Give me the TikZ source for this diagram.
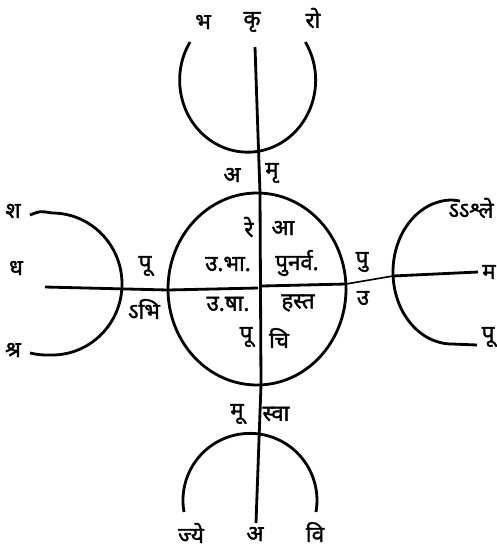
\documentclass[tikz,border=0pt]{standalone}
\usepackage{fontspec}
\usepackage{tikz}
\usetikzlibrary{calc}
\newfontfamily\devfont[Script=Devanagari, FakeBold=1.6]{Noto Sans}

\begin{document}
\begin{tikzpicture}[x=0.03cm, y=-0.03cm, line width=2.4pt,
  lbl/.style={font=\devfont\fontsize{19}{21}\selectfont, inner sep=0pt}]
  \useasboundingbox (0,0) rectangle (497,551);
  % --- centre circle and its cross ---
  \coordinate (mid) at (257,289);
  \draw (mid) ellipse [x radius=89, y radius=96];
  \draw (255,47) -- (260,193) -- (261,385) -- (256,523);
  \draw (45,287) -- (168,290) -- (258,288);
  \draw (262,286) -- (346,284);
  \draw[line width=1.4pt] (346,284) -- (393,276);
  \draw (393,276) -- (478,272);
  % --- the four outer arcs ---
  \draw (190,42) arc[start angle=212, end angle=-32, x radius=68, y radius=72];
  \draw (184,512) arc[start angle=170, end angle=370, radius=67];
  \draw (30,215) .. controls (40,211) .. (52,213)
    arc[start angle=-90, end angle=90, x radius=70, y radius=71] .. controls (40,355) .. (30,353);
  \draw (460,201) .. controls (456,200) .. (452,200)
    arc[start angle=270, end angle=90, x radius=59, y radius=72] -- (477,345);
  % --- top ---
  \node[lbl] (bha) at (203,22) {भ};
  \node[lbl] (kr) at (252,22) {कृ};
  \node[lbl] (ro) at (313,18) {रो};
  \node[lbl] (a1) at (232,175) {अ};
  \node[lbl] (mr) at (272,173) {मृ};
  % --- inside the circle ---
  \node[lbl] (re) at (249,227) {रे};
  \node[lbl] (aa) at (283,228) {आ};
  \node[lbl] (ubha) at (228,264) {उ.भा.};
  \node[lbl] (punarva) at (297,263) {पुनर्व.};
  \node[lbl] (usha) at (228,304) {उ.षा.};
  \node[lbl] (hasta) at (298,303) {हस्त};
  \node[lbl] (puu1) at (246,337) {पू};
  \node[lbl] (chi) at (279,338) {चि};
  % --- left ---
  \node[lbl] (sha) at (13,211) {श};
  \node[lbl] (dha) at (16,268) {ध};
  \node[lbl] (shra) at (13,350) {श्र};
  \node[lbl] (puu2) at (145,266) {पू};
  \node[lbl] (abhi) at (144,309) {ऽभि};
  % --- right ---
  \node[lbl] (pu) at (362,262) {पु};
  \node[lbl] (u) at (363,298) {उ};
  \node[lbl] (ashle) at (471,208) {ऽऽश्ले};
  \node[lbl] (ma) at (489,272) {म};
  \node[lbl] (puu3) at (488,337) {पू};
  % --- bottom ---
  \node[lbl] (muu) at (237,414) {मू};
  \node[lbl] (svaa) at (276,414) {स्वा};
  \node[lbl] (jye) at (191,533) {ज्ये};
  \node[lbl] (a2) at (255,534) {अ};
  \node[lbl] (vi) at (315,532) {वि};
\end{tikzpicture}
\end{document}
